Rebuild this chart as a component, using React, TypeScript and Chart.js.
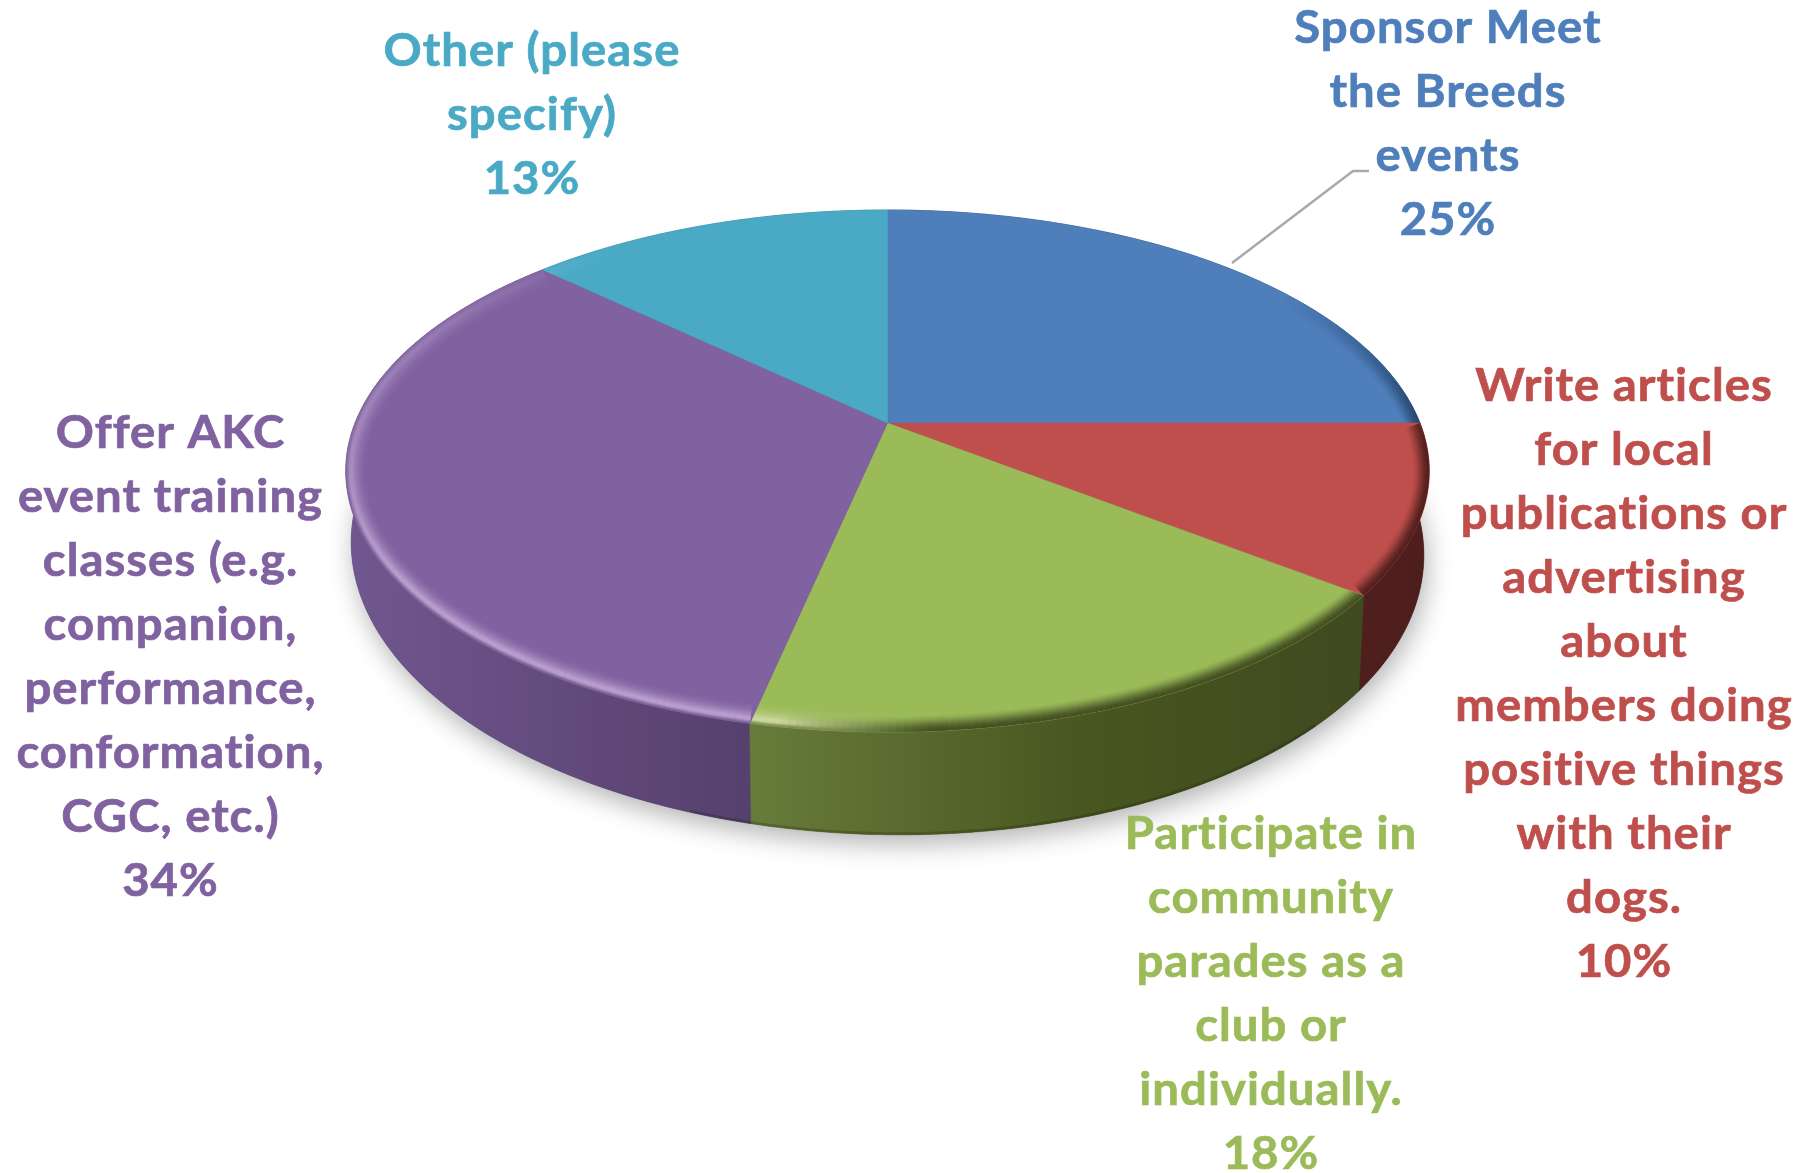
import React, { useEffect, useRef } from "react";
import { Chart, registerables } from "chart.js";

Chart.register(...registerables);

const categories: string[][] = [
  ["Sponsor Meet", "the Breeds", "events"],
  ["Write articles", "for local", "publications or", "advertising", "about", "members doing", "positive things", "with their", "dogs."],
  ["Participate in", "community", "parades as a", "club or", "individually."],
  ["Offer AKC", "event training", "classes (e.g.", "companion,", "performance,", "conformation,", "CGC, etc.)"],
  ["Other (please", "specify)"],
];
const shares: number[] = [25, 10.4, 18, 33.6, 13];
const sliceColors: string[] = ["#4f7fbb", "#bf4f4c", "#9bbb59", "#8062a0", "#4aaac5"];

const W = 1819;
const H = 1173;
const CX = 887.5;
const CY = 423;
const RX = 532.5;
const RY = 252.2;
const K = 0.184;
const labelAnchors = [
  { x: 1448, y: 28 },
  { x: 1624, y: 386 },
  { x: 1271, y: 834 },
  { x: 170.5, y: 433 },
  { x: 532, y: 51 },
];
const LINE = 64.1;

type P = [number, number];
const top = (t: number): P => {
  const x = Math.sin(t), y = -Math.cos(t), w = 1 - K * y;
  return [CX + (RX * x) / w, CY + (RY * y) / w];
};
const low = (t: number): P => {
  const p = top(t);
  const X = p[0] - CX, Y = p[1] - CY;
  return [CX + 0.99 * X, CY + 73 + 1.096 * Y + 0.012 * X];
};
const rgb = (h: string) => [1, 3, 5].map((i) => parseInt(h.slice(i, i + 2), 16));
const mix = (a: number[], b: number[], f: number) => a.map((v, i) => v + (b[i] - v) * f);
const css = (c: number[]) => `rgb(${c.map((v) => Math.round(v)).join(",")})`;
const ramp = (v: number, a: number, b: number) => Math.max(0, Math.min(1, (v - a) / (b - a)));
const smooth = (v: number) => v * v * (3 - 2 * v);

const sideStops: [number, number, string][][] = [
  [[1000, 0, "#1f3b5e"], [1430, 1, "#1f3b5e"]],
  [[1360, 0, "#4f1f1d"], [1430, 1, "#4d1e1c"]],
  [[750, 0, "#677c3b"], [1000, 0.55, "#48561f"], [1360, 1, "#3f4a20"]],
  [[346, 0, "#70578f"], [750, 1, "#56406d"]],
  [[346, 0, "#2b6a7c"], [887, 1, "#2b6a7c"]],
].map((s) => s as any);

const pie3d = {
  id: "pie3d",
  beforeDatasetDraw(chart: any) {
    const ctx: CanvasRenderingContext2D = chart.ctx;
    const arcs = chart.getDatasetMeta(0).data;
    const ranges = arcs.map((a: any) => [a.startAngle + Math.PI / 2, a.endAngle + Math.PI / 2]);
    const steps = (a: number, b: number) => {
      const n = Math.max(2, Math.ceil((b - a) / 0.012));
      return Array.from({ length: n + 1 }, (_, i) => a + ((b - a) * i) / n);
    };
    const poly = (pts: P[]) => {
      ctx.beginPath();
      pts.forEach((p, i) => (i ? ctx.lineTo(p[0], p[1]) : ctx.moveTo(p[0], p[1])));
      ctx.closePath();
    };

    ctx.save();
    // soft floor shadow
    ctx.save();
    ctx.shadowColor = "rgba(0,0,0,0.30)";
    ctx.shadowBlur = 26;
    ctx.shadowOffsetY = 9;
    ctx.shadowOffsetX = 3;
    ctx.fillStyle = "#56406d";
    poly(steps(0, Math.PI * 2).map(low));
    ctx.fill();
    ctx.restore();

    // extruded wall, back to front
    [4, 0, 1, 3, 2].forEach((i) => {
      const [a, b] = ranges[i];
      const ts = steps(a, b);
      const stops = sideStops[i];
      const g = ctx.createLinearGradient(stops[0][0], 0, stops[stops.length - 1][0], 0);
      stops.forEach((s) => g.addColorStop(s[1], s[2]));
      ctx.fillStyle = g;
      ctx.strokeStyle = g;
      ctx.lineWidth = 0.6;
      poly([...ts.map(top), ...ts.slice().reverse().map(low)]);
      ctx.fill();
      ctx.stroke();
    });

    // darkened foot of the wall
    ctx.save();
    poly(steps(0, Math.PI * 2).map(low));
    ctx.clip();
    ctx.strokeStyle = "rgba(20,25,5,0.22)";
    ctx.lineWidth = 5;
    ctx.beginPath();
    steps(Math.PI * 0.75, Math.PI * 1.1).map(low).forEach((p, i) => (i ? ctx.lineTo(p[0], p[1]) : ctx.moveTo(p[0], p[1])));
    ctx.stroke();
    ctx.restore();

    // top face with bevelled rim
    ranges.forEach(([a, b]: number[], i: number) => {
      const ts = steps(a, b);
      const base = rgb(sliceColors[i]);
      const light = mix(base, [255, 255, 255], 0.36).map((v, j) => Math.min(255, v * (j === 1 ? 1.02 : 1.06)));
      const dark = rgb(sideStops[i][sideStops[i].length - 1][2]);
      const wall = i === 3 ? rgb("#5f4880") : i === 2 ? rgb("#5c7033") : dark;
      ctx.fillStyle = css(base);
      ctx.strokeStyle = css(base);
      ctx.lineWidth = 0.5;
      const outline: P[] = [[CX, CY], ...ts.map(top)];
      poly(outline);
      ctx.fill();
      ctx.stroke();
      ctx.save();
      poly(outline);
      ctx.clip();
      ctx.lineWidth = 1.8;
      for (let d = 24; d >= 0; d -= 1) {
        for (let s = 0; s < ts.length - 1; s++) {
          const t0 = ts[s], t1 = ts[s + 1];
          const deg = (((t0 + t1) / 2) * 180) / Math.PI;
          const pa = top(t0), pb = top(t1);
          const dx = pb[0] - pa[0], dy = pb[1] - pa[1];
          const len = Math.hypot(dx, dy) || 1;
          const nx = -dy / len, ny = dx / len;
          const hi = ramp(deg, 178, 189) * (1 - 0.55 * ramp(deg, 235, 285)) * (1 - ramp(deg, 290, 325));
          const lo = ramp(deg, 55, 95) * (1 - ramp(deg, 176, 190));
          const hp = d < 6 ? 1 : 1 - ramp(d, 6, 22);
          const lp = smooth(1 - ramp(d, 0, 17));
          const edge = smooth(1 - ramp(d, 0, 4)) * hi * 0.7;
          if (hi * hp + lo * lp + edge < 0.01) continue;
          const c = mix(mix(mix(base, light, hi * hp * hp), dark, lo * lp * 0.95), wall, edge);
          ctx.strokeStyle = css(c);
          ctx.beginPath();
          ctx.moveTo(pa[0] + nx * d, pa[1] + ny * d);
          ctx.lineTo(pb[0] + nx * d, pb[1] + ny * d);
          ctx.stroke();
        }
      }
      ctx.restore();
    });
    ctx.restore();
    return false;
  },
  afterDatasetsDraw(chart: any) {
    const ctx: CanvasRenderingContext2D = chart.ctx;
    const vals: number[] = chart.data.datasets[0].data;
    const total = vals.reduce((a, b) => a + b, 0);
    ctx.save();
    ctx.strokeStyle = "#a9a9a9";
    ctx.lineWidth = 2.5;
    ctx.beginPath();
    ctx.moveTo(1232, 263);
    ctx.lineTo(1353, 171);
    ctx.lineTo(1369, 171);
    ctx.stroke();
    (ctx as any).filter = "blur(0.6px)";
    ctx.font = "bold 45px Lato";
    (ctx as any).letterSpacing = "1px";
    ctx.textAlign = "center";
    ctx.textBaseline = "middle";
    ctx.lineWidth = 0.7;
    categories.forEach((lines, i) => {
      ctx.fillStyle = sliceColors[i];
      ctx.strokeStyle = sliceColors[i];
      const all = [...lines, `${Math.round((vals[i] / total) * 100)}%`];
      all.forEach((line, j) => {
        ctx.save();
        ctx.translate(labelAnchors[i].x, labelAnchors[i].y + j * LINE);
        ctx.scale(1.05, 1);
        ctx.fillText(line, 0, 0);
        ctx.strokeText(line, 0, 0);
        ctx.restore();
      });
    });
    ctx.restore();
  },
};

export default function App() {
  const ref = useRef<HTMLCanvasElement>(null);
  useEffect(() => {
    document.body.style.margin = "0";
    document.body.style.background = "#fff";
    const chart = new Chart(ref.current!, {
      type: "pie",
      data: {
        labels: categories.map((c) => c.join(" ")),
        datasets: [{ data: shares, backgroundColor: sliceColors, borderWidth: 0 }],
      },
      options: {
        responsive: false,
        animation: false,
        plugins: { legend: { display: false }, tooltip: { enabled: false } },
      },
      plugins: [pie3d],
    } as any);
    return () => chart.destroy();
  }, []);
  return (
    <div style={{ width: W, height: H, overflow: "hidden" }}>
      <canvas ref={ref} width={W} height={H} style={{ display: "block" }} />
    </div>
  );
}
